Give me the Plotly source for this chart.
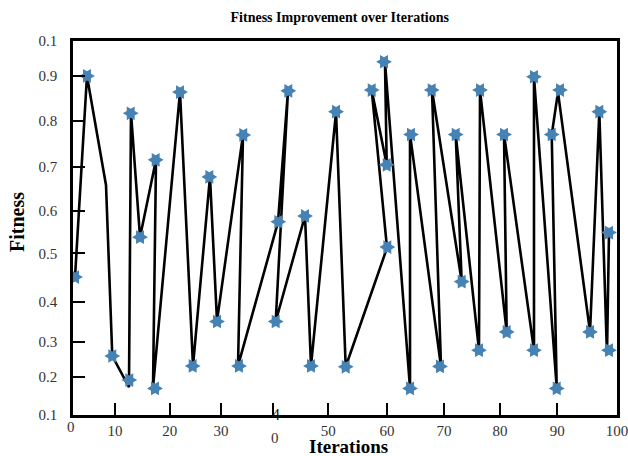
import plotly.graph_objects as go

# ---- data ----
line_x = [0.37, 2.57, 6.07, 7.22, 10.29, 10.66, 12.32, 15.26, 14.71, 19.67, 22.06, 25.18, 26.47,
          31.25, 30.33, 37.68, 39.52, 37.26, 42.65, 43.75, 48.35, 50.13, 57.72, 54.91, 57.67,
          57.35, 61.95, 61.95, 67.65, 65.99, 71.45, 70.35, 74.63, 74.82, 79.72, 79.23, 84.74,
          84.74, 88.92, 88.00, 89.15, 95.04, 96.75, 98.16, 98.53]
line_y = [0.432, 0.916, 0.653, 0.242, 0.167, 0.827, 0.528, 0.714, 0.167, 0.877, 0.218, 0.673, 0.326,
          0.774, 0.218, 0.564, 0.880, 0.325, 0.579, 0.218, 0.829, 0.216, 0.502, 0.882, 0.702,
          0.950, 0.165, 0.776, 0.216, 0.882, 0.421, 0.775, 0.256, 0.882, 0.300, 0.776, 0.256,
          0.913, 0.165, 0.774, 0.877, 0.300, 0.829, 0.244, 0.538]

star_x = [0.37, 2.57, 7.22, 10.35, 10.61, 12.32, 15.20, 15.07, 19.67, 22.0, 25.06, 26.47, 31.3,
          30.51, 37.74, 39.58, 37.26, 42.65, 43.75, 48.35, 50.13, 57.78, 54.91, 57.67, 57.17,
          61.95, 62.13, 67.46, 65.94, 71.45, 70.35, 74.63, 74.82, 79.72, 79.23, 84.74, 84.74,
          88.92, 88.0, 89.52, 95.04, 96.75, 98.53, 98.53]
star_y = [0.432, 0.916, 0.242, 0.184, 0.826, 0.528, 0.714, 0.164, 0.877, 0.218, 0.673, 0.325, 0.774,
          0.218, 0.565, 0.880, 0.325, 0.579, 0.218, 0.830, 0.216, 0.504, 0.882, 0.702, 0.950,
          0.164, 0.775, 0.217, 0.882, 0.421, 0.775, 0.256, 0.882, 0.300, 0.775, 0.256, 0.914,
          0.164, 0.775, 0.882, 0.300, 0.830, 0.256, 0.539]

x_tickvals = [7.7, 17.8, 27.2, 36.8, 46.9, 57.7, 68.2, 78.5, 89.0, 100]
x_ticktext = ["10", "20", "30", "", "50", "60", "70", "80", "90", "100"]
y_tickvals = [0.1, 0.192, 0.276, 0.373, 0.489, 0.592, 0.698, 0.808, 0.916, 1.0]
y_ticktext = ["0.1", "0.2", "0.3", "0.4", "0.5", "0.6", "0.7", "0.8", "0.9", "0.1"]

SERIF = "Liberation Serif, Times New Roman, serif"
TICKCOL = "#333333"

fig = go.Figure()
fig.add_trace(go.Scatter(x=line_x, y=line_y, mode="lines",
                         line=dict(color="black", width=2.6), showlegend=False, hoverinfo="skip"))
fig.add_trace(go.Scatter(x=star_x, y=star_y, mode="markers",
                         marker=dict(symbol="hexagram", size=12, angle=90, color="#4682b4",
                                     line=dict(width=0)),
                         showlegend=False))

fig.update_layout(
    width=628, height=456,
    margin=dict(l=73, r=11, t=41, b=41),
    paper_bgcolor="white", plot_bgcolor="white",
    font=dict(family=SERIF, color=TICKCOL, size=15),
    title=dict(text="<b>Fitness Improvement over Iterations</b>", x=0.541, xanchor="center",
               y=0.963, yanchor="middle", font=dict(family=SERIF, size=14, color="black")),
    xaxis=dict(range=[0, 100], tickmode="array", tickvals=x_tickvals, ticktext=x_ticktext,
               ticks="inside", ticklen=12, tickwidth=2, tickcolor="black",
               showline=True, linecolor="black", linewidth=2.5, mirror=True,
               showgrid=False, zeroline=False, automargin=False, ticklabeloverflow="allow",
               tickfont=dict(family=SERIF, size=15, color=TICKCOL)),
    yaxis=dict(range=[0.1, 1.0], tickmode="array", tickvals=y_tickvals, ticktext=y_ticktext,
               ticks="inside", ticklen=12, tickwidth=2, tickcolor="black",
               showline=True, linecolor="black", linewidth=2.5, mirror=True,
               showgrid=False, zeroline=False, automargin=False, ticklabelstandoff=10,
               ticklabeloverflow="allow",
               tickfont=dict(family=SERIF, size=15, color=TICKCOL)),
)

# axis titles
fig.add_annotation(x=0.506, y=-0.085, xref="paper", yref="paper", text="<b>Iterations</b>",
                   showarrow=False, xanchor="center", yanchor="middle",
                   font=dict(family=SERIF, size=19, color="black"))
fig.add_annotation(x=-0.103, y=0.516, xref="paper", yref="paper", text="<b>Fitness</b>",
                   showarrow=False, textangle=-90, xanchor="center", yanchor="middle",
                   font=dict(family=SERIF, size=20, color="black"))

# split "40" label and the leftmost "0" label, as drawn in the reference
fig.add_annotation(x=0.373, y=0, xref="paper", yref="paper", text="4", showarrow=False,
                   yanchor="middle", yshift=1, font=dict(family=SERIF, size=16, color="#111111"))
fig.add_annotation(x=0.371, y=0, xref="paper", yref="paper", text="0", showarrow=False,
                   yanchor="middle", yshift=-23, font=dict(family=SERIF, size=15, color=TICKCOL))
fig.add_annotation(x=0, y=0, xref="paper", yref="paper", text="0", showarrow=False,
                   yanchor="middle", xshift=-8, yshift=-12,
                   font=dict(family=SERIF, size=15, color=TICKCOL))

fig.write_html("out.html", config={"displayModeBar": False},
               post_script="document.body.style.margin='0';document.body.style.overflow='hidden';")
